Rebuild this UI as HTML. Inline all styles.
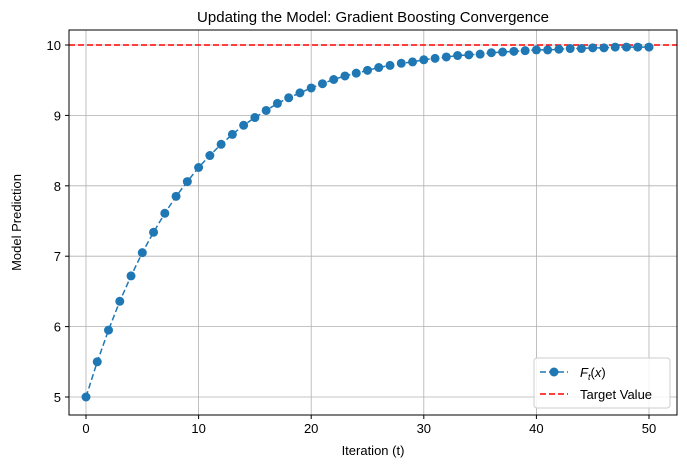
<!DOCTYPE html>
<html><head><meta charset="utf-8"><style>
body{margin:0;background:#fff;font-family:"Liberation Sans","DejaVu Sans",sans-serif;}
svg text{font-family:"Liberation Sans","DejaVu Sans",sans-serif;fill:#000;}
</style></head><body>
<svg id="chart" width="687" height="468" xmlns="http://www.w3.org/2000/svg"></svg>
<script>
const iterations=[];for(let i=0;i<=50;i++)iterations.push(i);
const predictions=[5.00,5.50,5.95,6.36,6.72,7.05,7.34,7.61,7.85,8.06,8.26,8.43,8.59,8.73,8.86,8.97,9.07,9.17,9.25,9.32,9.39,9.45,9.51,9.56,9.60,9.64,9.68,9.71,9.74,9.76,9.79,9.81,9.83,9.85,9.86,9.87,9.89,9.90,9.91,9.92,9.93,9.93,9.94,9.95,9.95,9.96,9.96,9.97,9.97,9.97,9.97];
const targetValue=10;
const xTicks=[0,10,20,30,40,50];
const yTicks=[5,6,7,8,9,10];
const L=69,R=677,T=30,B=415;
const X=v=>86+(v-0)*(649-86)/50;
const Y=v=>397-(v-5)*(397-45)/5;
const svg=document.getElementById('chart');
const NS='http://www.w3.org/2000/svg';
function mk(tag,attrs,parent){const e=document.createElementNS(NS,tag);for(const k in attrs)e.setAttribute(k,attrs[k]);(parent||svg).appendChild(e);return e;}
// grid
xTicks.forEach(t=>{const g=mk('line',{x1:X(t),x2:X(t),y1:T,y2:B,stroke:'#b0b0b0','stroke-width':0.8});


const tk=mk('line',{x1:X(t),x2:X(t),y1:B,y2:B+4,stroke:'#000'});
const lb=mk('text',{x:X(t),y:B+18,'text-anchor':'middle','font-size':13});lb.textContent=t;

});
yTicks.forEach(t=>{const g=mk('line',{x1:L,x2:R,y1:Y(t),y2:Y(t),stroke:'#b0b0b0','stroke-width':0.8});


mk('line',{x1:L-4,x2:L,y1:Y(t),y2:Y(t),stroke:'#000'});
const lb=mk('text',{x:L-8,y:Y(t)+5,'text-anchor':'end','font-size':13});lb.textContent=t;

});
// target line
const tl=mk('line',{x1:L,x2:R,y1:Y(targetValue),y2:Y(targetValue),stroke:'#ff0000','stroke-width':1.5,'stroke-dasharray':'6,3'});


// series
const pts=iterations.map((t,i)=>X(t)+','+Y(predictions[i])).join(' ');
const pl=mk('polyline',{points:pts,fill:'none',stroke:'#1f77b4','stroke-width':1.5,'stroke-dasharray':'6,3'});


iterations.forEach((t,i)=>{const c=mk('circle',{cx:X(t),cy:Y(predictions[i]),r:4.5,fill:'#1f77b4'});

});
// frame
const fr=mk('rect',{x:L,y:T,width:R-L,height:B-T,fill:'none',stroke:'#000','stroke-width':1});


// titles
const ti=mk('text',{x:(L+R)/2,y:22,'text-anchor':'middle','font-size':15});ti.textContent='Updating the Model: Gradient Boosting Convergence';


const xt=mk('text',{x:(L+R)/2,y:455,'text-anchor':'middle','font-size':13});xt.textContent='Iteration (t)';


const yt=mk('text',{x:21,y:(T+B)/2,'text-anchor':'middle','font-size':13,transform:`rotate(-90 21 ${(T+B)/2})`});yt.textContent='Model Prediction';


// legend
const lg=mk('g',{});


mk('rect',{x:534,y:358,width:136,height:50,rx:3,fill:'#fff','fill-opacity':0.85,stroke:'#ccc'},lg);
mk('line',{x1:540,x2:568,y1:372,y2:372,stroke:'#1f77b4','stroke-width':1.5,'stroke-dasharray':'6,3'},lg);
mk('circle',{cx:554,cy:372,r:4.5,fill:'#1f77b4'},lg);
const l1=mk('text',{x:580,y:377,'font-size':13,'font-style':'italic'},lg);l1.innerHTML='F<tspan font-size="9" dy="3">t</tspan><tspan dy="-3" font-style="normal">(</tspan>x<tspan font-style="normal">)</tspan>';


mk('line',{x1:540,x2:568,y1:394,y2:394,stroke:'#ff0000','stroke-width':1.5,'stroke-dasharray':'6,3'},lg);
const l2=mk('text',{x:580,y:399,'font-size':13},lg);l2.textContent='Target Value';


</script>
</body></html>
